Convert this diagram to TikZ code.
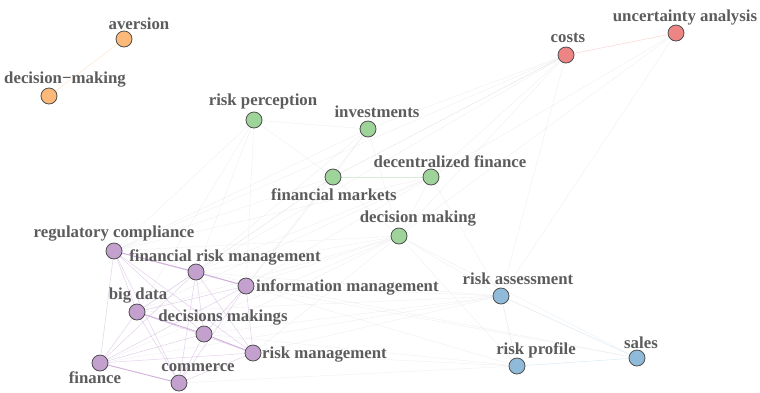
\documentclass[tikz,border=0pt]{standalone}
\usepackage{fontspec}
\setmainfont{Liberation Serif}
\usetikzlibrary{backgrounds}
\definecolor{txt}{HTML}{5C5C5C}
\definecolor{rim}{HTML}{4E4E4E}
\definecolor{corange}{HTML}{FDB979}
\definecolor{cred}{HTML}{EE8585}
\definecolor{cgreen}{HTML}{9ED49A}
\definecolor{cpurple}{HTML}{C4A0CF}
\definecolor{cblue}{HTML}{8FBAD9}
\definecolor{epurple}{HTML}{C9A3D6}
\definecolor{egray}{HTML}{DCDCE2}
\begin{document}
\begin{tikzpicture}[x=1pt,y=-1pt,
  vtx/.style={circle,draw=rim,line width=0.8pt,minimum size=16pt,inner sep=0pt},
  lbl/.style={text=txt,font=\fontsize{16.8}{18}\selectfont\bfseries,inner sep=0pt},
  pe/.style={draw=epurple,line width=0.5pt,opacity=0.5},
  pes/.style={draw=epurple,line width=1pt,opacity=0.8},
  ge/.style={draw=egray,line width=0.4pt,opacity=0.45},
  oe/.style={draw=corange!35,line width=0.5pt},
  re/.style={draw=cred!35,line width=0.5pt},
  gre/.style={draw=cgreen!40,line width=0.6pt},
  be/.style={draw=cblue!30,line width=0.5pt}]
\useasboundingbox (0,0) rectangle (760,392);

% keyword vertices
\node[vtx,fill=corange] (av)  at (124,39)  {};
\node[vtx,fill=corange] (dm1) at (49,96)   {};
\node[vtx,fill=cred]    (co)  at (566,55)  {};
\node[vtx,fill=cred]    (ua)  at (676,33)  {};
\node[vtx,fill=cgreen]  (rp)  at (254,120) {};
\node[vtx,fill=cgreen]  (inv) at (368,129) {};
\node[vtx,fill=cgreen]  (fm)  at (333,177) {};
\node[vtx,fill=cgreen]  (df)  at (431,177) {};
\node[vtx,fill=cgreen]  (dm2) at (399,236) {};
\node[vtx,fill=cpurple] (rc)  at (114,251) {};
\node[vtx,fill=cpurple] (frm) at (196,272) {};
\node[vtx,fill=cpurple] (im)  at (246,286) {};
\node[vtx,fill=cpurple] (bd)  at (137,312) {};
\node[vtx,fill=cpurple] (dms) at (204,334) {};
\node[vtx,fill=cpurple] (rm)  at (253,353) {};
\node[vtx,fill=cpurple] (fin) at (100,363) {};
\node[vtx,fill=cpurple] (com) at (179,383) {};
\node[vtx,fill=cblue]   (ra)  at (501,296) {};
\node[vtx,fill=cblue]   (rpf) at (517,366) {};
\node[vtx,fill=cblue]   (sal) at (637,358) {};

% keyword labels
\node[lbl] (av-l)  at (139,24)  {aversion};
\node[lbl] (dm1-l) at (65,80)   {decision\char"2212 making};
\node[lbl] (co-l)  at (568,38)  {costs};
\node[lbl] (ua-l)  at (685,17)  {uncertainty analysis};
\node[lbl] (rp-l)  at (263,101) {risk perception};
\node[lbl] (inv-l) at (377,112) {investments};
\node[lbl] (fm-l)  at (334,195) {financial markets};
\node[lbl] (df-l)  at (450,162) {decentralized finance};
\node[lbl] (dm2-l) at (418,219) {decision making};
\node[lbl] (rc-l)  at (114,234) {regulatory compliance};
\node[lbl] (frm-l) at (225,257) {financial risk management};
\node[lbl,anchor=west] (im-l) at (256,287) {information management};
\node[lbl] (bd-l)  at (138,296) {big data};
\node[lbl] (dms-l) at (223,318) {decisions makings};
\node[lbl,anchor=west] (rm-l) at (262,355) {risk management};
\node[lbl] (fin-l) at (95,378)  {finance};
\node[lbl] (com-l) at (198,368) {commerce};
\node[lbl] (ra-l)  at (518,279) {risk assessment};
\node[lbl] (rpf-l) at (536,350) {risk profile};
\node[lbl] (sal-l) at (641,343) {sales};

\begin{pgfonlayer}{background}
  % co-occurrence links, drawn behind the vertices
  \foreach \a/\b in {rp/fm,rp/inv,rp/rc,rp/frm,rp/bd,rp/im,inv/fm,inv/frm,inv/rc,inv/co,inv/im,inv/dm2,
    fm/dm2,fm/rc,fm/im,fm/frm,fm/bd,fm/co,df/co,df/dm2,df/frm,df/ra,df/im,df/rc,df/bd,
    dm2/rc,dm2/frm,dm2/im,dm2/ra,dm2/rpf,dm2/bd,dm2/dms,dm2/rm,dm2/fin,co/rc,co/frm,co/ra,co/dm2,co/fm,
    ua/ra,ua/df,ua/dm2,ra/im,ra/frm,ra/dms,ra/bd,ra/rm,ra/fin,rpf/rm,rpf/dms,rpf/im,rpf/com,sal/dm2,sal/im,sal/frm}
    \draw[ge] (\a) -- (\b);
  \foreach \a/\b in {rc/im,rc/bd,rc/fin,rc/com,rc/dms,rc/rm,frm/bd,frm/dms,frm/com,frm/rm,frm/fin,
    im/bd,im/dms,im/com,im/fin,im/rm,bd/rm,bd/com,bd/fin,dms/com,dms/fin,com/rm,fin/rm}
    \draw[pe] (\a) -- (\b);
  \draw[pes] (rc) -- (frm);
  \draw[pes] (frm) -- (im);
  \draw[pes] (bd) -- (dms);
  \draw[pes] (dms) -- (rm);
  \draw[pes] (fin) -- (com);
  \draw[oe] (av) -- (dm1);
  \draw[re] (co) -- (ua);
  \draw[gre] (fm) -- (df);
  \draw[be] (ra) -- (rpf);
  \draw[be] (ra) -- (sal);
  \draw[be] (rpf) -- (sal);
\end{pgfonlayer}
\end{tikzpicture}
\end{document}
